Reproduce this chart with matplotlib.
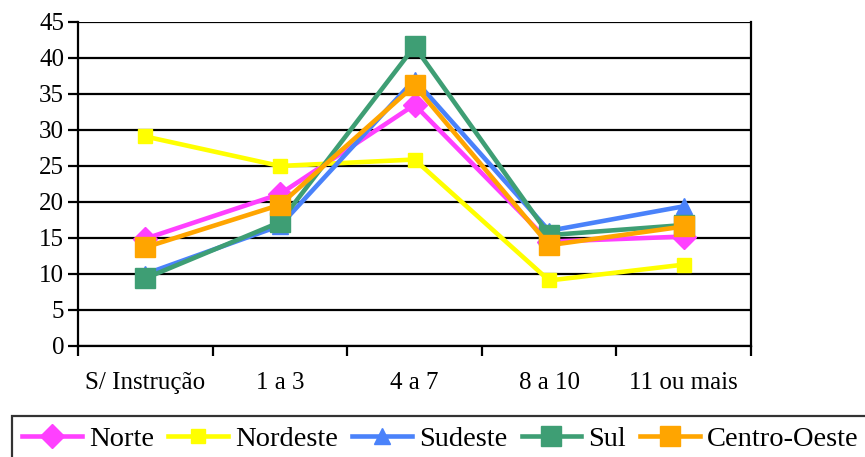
import matplotlib
matplotlib.use("Agg")
import matplotlib.pyplot as plt
from matplotlib.ticker import FixedLocator, NullFormatter

categories = ["S/ Instrução", "1 a 3", "4 a 7", "8 a 10", "11 ou mais"]
norte = [14.9, 21.1, 33.5, 14.5, 15.2]
nordeste = [29.1, 25.0, 25.9, 9.1, 11.3]
sudeste = [10.0, 16.7, 37.0, 16.0, 19.4]
sul = [9.4, 17.2, 41.6, 15.4, 16.8]
centro_oeste = [13.7, 19.6, 36.2, 14.0, 16.6]
y_ticks = [0, 5, 10, 15, 20, 25, 30, 35, 40, 45]

plt.rcParams["font.family"] = ["Liberation Serif", "DejaVu Serif"]

fig = plt.figure(figsize=(8.65, 4.57), dpi=100)
ax = fig.add_axes([78 / 865, 1 - 346 / 457, (751 - 78) / 865, (346 - 22) / 457])

x = list(range(len(categories)))
series = [
    ("Norte", norte, "#FF40FF", "D", 12),
    ("Nordeste", nordeste, "#FFFF00", "s", 9.5),
    ("Sudeste", sudeste, "#4A82FA", "^", 12),
    ("Sul", sul, "#3E9E74", "s", 14),
    ("Centro-Oeste", centro_oeste, "#FFA500", "s", 14),
]
for name, vals, color, marker, ms in series:
    ax.plot(x, vals, color=color, lw=3.3, marker=marker, ms=ms,
            markeredgecolor=color, label=name, zorder=3)

ax.set_xlim(-0.5, len(categories) - 0.5)
ax.set_ylim(0, 45)
ax.set_yticks(y_ticks)
ax.yaxis.grid(True, color="black", lw=1.6)
ax.set_axisbelow(True)

# category ticks sit between the groups; labels sit under each group
ax.xaxis.set_major_locator(FixedLocator([i - 0.5 for i in range(len(categories) + 1)]))
ax.xaxis.set_major_formatter(NullFormatter())
ax.xaxis.set_minor_locator(FixedLocator(x))
ax.set_xticklabels(categories, minor=True)
ax.tick_params(axis="x", which="minor", length=0, pad=19, labelsize=18)
ax.tick_params(axis="x", which="major", length=7, width=1.6, direction="out")
ax.tick_params(axis="y", length=7, width=1.6, direction="out", labelsize=18, pad=3)

for side in ("left", "bottom", "right"):
    ax.spines[side].set_linewidth(1.6)
    ax.spines[side].set_color("black")
ax.spines["top"].set_visible(False)

leg = fig.legend(loc="upper left", bbox_to_anchor=(12 / 865, 1 - 416 / 457),
                 ncol=5, frameon=True, fancybox=False, fontsize=20.5,
                 handlelength=2.1, handletextpad=0.25, columnspacing=0.5,
                 borderpad=0.35, borderaxespad=0)
leg.get_frame().set_edgecolor("black")
leg.get_frame().set_linewidth(1.6)

fig.savefig("out.png", dpi=100)
